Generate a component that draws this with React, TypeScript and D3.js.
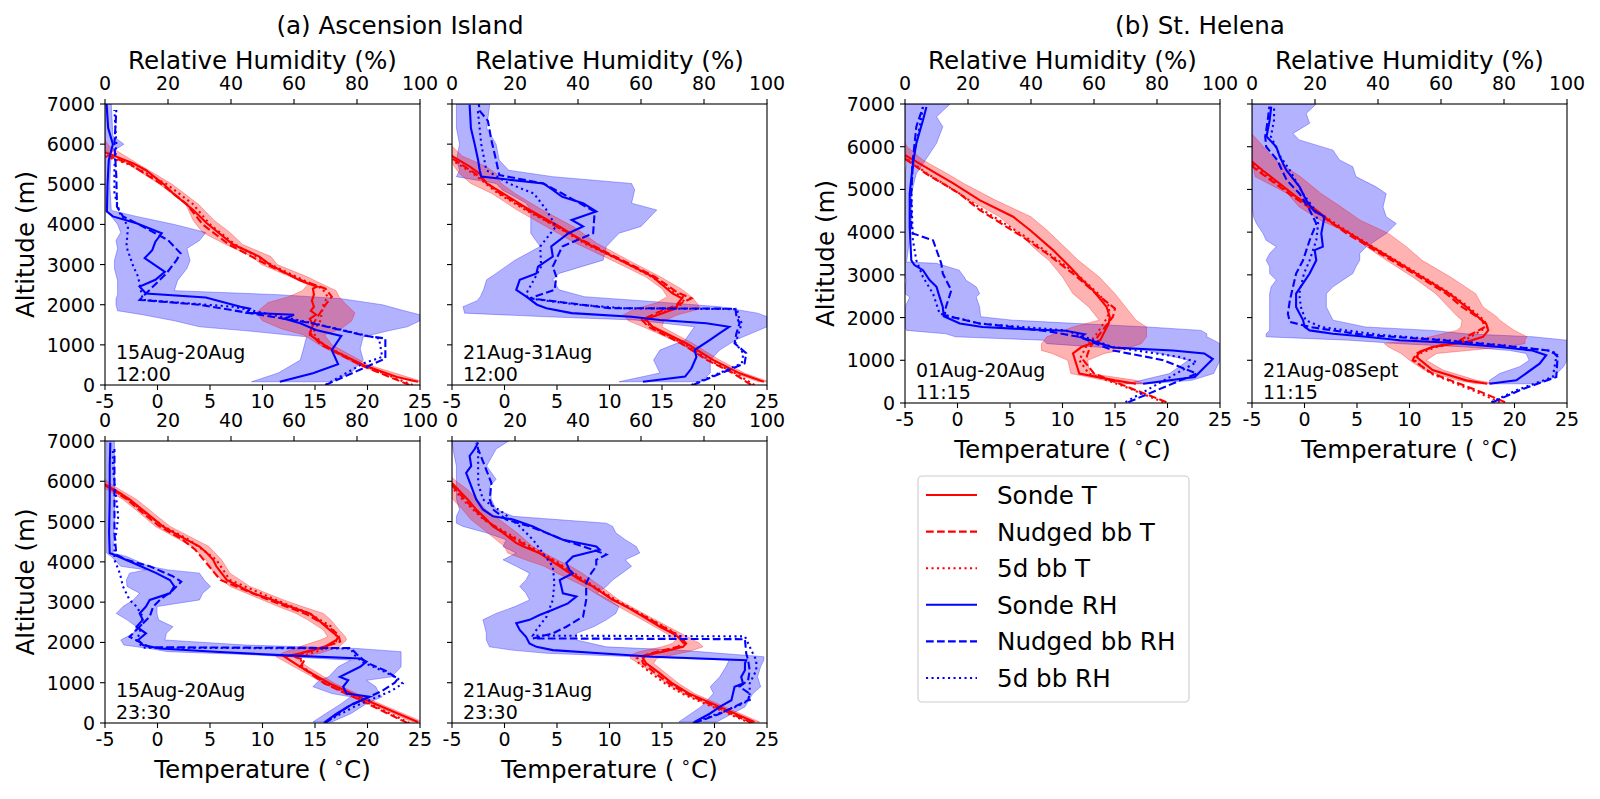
import * as d3 from "d3";

// [altitude (m), value]
type Pt = [number, number];
// [altitude (m), low, high]
type Band = [number, number, number];

const T_TICKS = [-5, 0, 5, 10, 15, 20, 25];
const RH_TICKS = [0, 20, 40, 60, 80, 100];
const ALT_TICKS = [0, 1000, 2000, 3000, 4000, 5000, 6000, 7000];

const TITLES = ["(a) Ascension Island", "(b) St. Helena"];
const LEGEND_LABELS = ["Sonde T", "Nudged bb T", "5d bb T", "Sonde RH", "Nudged bb RH", "5d bb RH"];

// ---- Ascension 15Aug-20Aug 12:00
const A1_SONDE_T: Pt[] = [[80,24.8],[200,22.8],[500,19.6],[870,16.7],[1000,15.9],[1250,14.5],[1350,14.6],[1500,14.8],[1650,14.5],[1750,15.1],[1850,14.6],[1950,14.9],[2100,14.7],[2250,14.9],[2400,14.8],[2450,15.2],[2600,13.6],[3000,10.7],[3200,9.7],[3500,7.2],[4030,4.7],[4360,3.4],[4770,1.5],[5000,0.6],[5350,-1.1],[5520,-2.3],[5800,-5]];
const A1_NUDGED_T: Pt[] = [[0,24.0],[500,19.3],[1000,15.6],[1300,14.5],[1600,15.0],[2000,16.0],[2200,16.6],[2400,16.0],[2600,13.8],[3000,10.4],[3500,6.8],[4000,4.3],[4500,2.8],[5000,0.4],[5500,-2.6],[5750,-5]];
const A1_FIVE_T: Pt[] = [[0,24.3],[500,19.5],[1000,15.8],[1300,14.8],[1600,15.5],[2000,15.8],[2200,16.2],[2400,15.7],[2600,14.0],[3000,10.8],[3500,7.4],[4000,5.0],[4500,3.4],[5000,0.9],[5500,-2.7],[5700,-5]];
const A1_BAND_T: Band[] = [[80,24.3,25.3],[500,19.1,20.1],[1000,15.4,16.6],[1250,13.9,15.9],[1400,11.8,17.5],[1600,10.0,18.5],[1800,9.4,18.8],[2050,10.5,17.8],[2200,12.5,17.3],[2350,13.8,17.0],[2500,14.3,15.8],[2700,12.6,14.2],[3000,9.9,11.4],[3200,9.0,10.8],[3500,6.5,8.1],[3800,4.3,6.9],[4100,3.4,5.4],[4500,2.7,3.9],[5000,0.2,1.4],[5500,-2.8,-1.8],[5950,-5.6,-4.6],[6100,-5.6,-5.0]];
const A1_SONDE_RH: Pt[] = [[80,55.5],[290,66],[520,74],[870,72],[1220,75],[1370,67],[1540,62],[1650,57],[1750,60],[1800,45],[1900,46],[1950,43],[2180,32],[2280,13],[2450,11],[2620,16],[2820,19],[3160,12.6],[3360,15],[3570,16],[3780,18],[4030,10],[4200,2.5],[4320,0.6],[5000,0.8],[5600,1.2],[6000,2.5],[6400,1],[7000,0.5]];
const A1_NUDGED_RH: Pt[] = [[0,70],[660,89],[1160,89],[1220,83],[1540,65.6],[1790,46],[2000,30],[2120,11],[2280,13],[2780,19.5],[3110,22.7],[3280,24],[3610,20],[3990,11],[4200,5.7],[4440,3.8],[5190,3.6],[6000,3],[6850,3.6]];
const A1_FIVE_RH: Pt[] = [[0,70],[540,82],[700,88],[1160,87],[1540,66],[1950,40.7],[2120,12],[2700,10.5],[2950,9],[3450,6.8],[3950,7.3],[4280,4.7],[4770,3],[5440,3],[6000,3.6],[6850,3]];
const A1_BAND_RH: Band[] = [[80,46.5,72],[300,55,78],[620,62,82],[900,63,81],[1200,64,82],[1350,45,90],[1450,30,96],[1600,22,100],[1750,12,100],[1850,4,95],[2000,3.5,88],[2150,3.5,75],[2250,4,55],[2350,4,22],[2600,4,23],[2900,3,26],[3100,3,27],[3400,4,26],[3600,3.5,30],[3800,5,32],[4000,4,22],[4200,2,10],[4350,0,2],[5000,0,1.5],[5800,0,2],[6000,0,6],[6200,0,2.5],[7000,0,2]];

// ---- Ascension 21Aug-31Aug 12:00
const A2_SONDE_T: Pt[] = [[80,24.7],[290,22.4],[620,19.9],[1040,17.3],[1450,14.1],[1620,13.5],[1700,14.1],[1910,16.4],[2030,16.5],[2160,16.9],[2280,16.0],[2700,14.1],[3110,11.0],[3530,7.8],[3940,5.3],[4360,2.4],[4770,-0.1],[5020,-1.7],[5270,-2.4],[5440,-3.3],[5690,-4.9],[5720,-5]];
const A2_NUDGED_T: Pt[] = [[0,23.5],[290,21.8],[620,19.3],[1040,16.8],[1450,13.7],[1620,13.1],[1800,14.5],[2000,16.5],[2160,17.8],[2300,16.5],[2700,14.3],[3110,11.2],[3530,8.0],[3940,5.0],[4360,2.2],[4770,-0.4],[5270,-2.8],[5650,-5]];
const A2_FIVE_T: Pt[] = [[0,23.8],[290,22.0],[620,19.5],[1040,17.0],[1450,13.9],[1620,13.4],[1800,15.0],[2000,16.8],[2160,17.2],[2300,16.2],[2700,14.0],[3110,11.0],[3530,7.6],[3940,5.0],[4360,2.0],[4770,-0.6],[5270,-3.0],[5600,-5]];
const A2_BAND_T: Band[] = [[80,24.2,25.2],[290,21.9,22.9],[620,19.3,20.5],[1040,16.7,17.9],[1450,13.2,15.0],[1600,11.8,15.2],[1750,11.3,16.5],[1900,12.5,18.7],[2050,14.5,18.3],[2200,15.5,17.8],[2400,15.0,16.8],[2700,13.4,14.8],[3110,10.2,11.8],[3530,6.8,8.8],[3940,4.0,6.6],[4360,1.2,3.6],[4770,-1.2,1.0],[5020,-3.2,-0.3],[5270,-4.3,-0.8],[5450,-4.8,-1.8],[5700,-5.5,-4.0],[5950,-5.5,-5.0]];
const A2_SONDE_RH: Pt[] = [[80,60.6],[210,74],[410,76],[700,77.6],[870,77],[1120,81.8],[1290,85],[1450,88],[1540,80.7],[1620,66],[1700,57],[1790,38],[1910,30],[2000,27],[2200,23.6],[2370,20.4],[2620,21.5],[2780,26.8],[2950,27.3],[3200,32],[3450,31.5],[3780,37],[3950,41.6],[4110,38],[4320,45.8],[4530,41.6],[4690,35],[4860,32],[5020,29],[5190,9.3],[5350,8.8],[5600,8.3],[6000,7.2],[6400,6],[6980,5.6]];
const A2_NUDGED_RH: Pt[] = [[0,76.5],[540,92.9],[790,93.4],[1040,89.7],[1290,90.3],[1540,91.3],[1700,90.3],[1900,90],[1915,50],[2160,24.7],[2370,32.6],[2700,33.1],[2950,32],[3450,35],[3780,44.8],[4320,45.3],[4530,40.5],[4770,35],[5020,29],[5230,15],[5600,14],[6100,12.5],[6580,11.4],[6830,8.8],[7000,8.5]];
const A2_FIVE_RH: Pt[] = [[0,76],[540,92],[790,92.5],[1040,90],[1290,91],[1540,92],[1700,91],[1890,90.5],[1910,55],[2000,40],[2160,24],[2280,23.6],[2950,28.3],[3450,28],[3950,33],[4360,30],[4770,26],[5020,18],[5350,10.9],[6000,9.3],[6830,8.2]];
const A2_BAND_RH: Band[] = [[80,53,79],[300,66,82],[620,64,82],[870,66,85],[1120,74,90],[1450,77,100],[1620,58,100],[1700,30,100],[1790,4,97],[1950,3.5,85],[2100,8,60],[2200,9,42],[2370,10,34],[2620,11,32],[2780,14,34],[3110,20,48],[3450,28,49],[3780,25,53],[3950,25,60],[4360,25,65],[4530,23.5,57],[4860,16,58],[5020,14,57],[5190,1.4,32],[5350,2.4,18],[5600,1.4,15],[6000,2.4,14],[6400,1.4,11],[7000,1.4,12]];

// ---- Ascension 15Aug-20Aug 23:30
const A3_SONDE_T: Pt[] = [[25,24.8],[565,19.9],[980,16.4],[1395,13.6],[1645,12.1],[1730,13.6],[1890,15.9],[2060,17.05],[2140,17.2],[2310,16.4],[2560,15.3],[2720,14.5],[2890,12.6],[3055,11],[3220,9.1],[3390,7.8],[3550,6.6],[3720,6.1],[3890,5.6],[4050,5.3],[4220,4.7],[4380,4.0],[4550,2.75],[4880,0.5],[5215,-1.06],[5550,-2.65],[5710,-3.6],[5920,-5]];
const A3_NUDGED_T: Pt[] = [[0,23.8],[565,19.3],[980,15.9],[1300,14.2],[1400,13.6],[1560,14.0],[1650,13.0],[1800,14.8],[2020,17.4],[2200,17.2],[2400,16.2],[2700,14.2],[3055,10.6],[3550,6.0],[4050,4.4],[4300,3.6],[4550,2.4],[4880,0.2],[5215,-1.4],[5550,-2.9],[5900,-5]];
const A3_FIVE_T: Pt[] = [[0,24.0],[565,19.5],[980,16.0],[1400,13.8],[1650,13.6],[1800,15.5],[2020,17.0],[2200,17.0],[2400,16.5],[2700,14.6],[3055,11.3],[3550,6.9],[4050,5.6],[4550,3.0],[4880,0.6],[5215,-1.2],[5550,-2.8],[5900,-5]];
const A3_BAND_T: Band[] = [[25,24.3,25.3],[565,19.4,20.4],[980,15.9,16.9],[1395,13.0,14.3],[1645,11.3,13.0],[1730,11.8,15.5],[1890,13.5,17.3],[2060,15.5,18.0],[2140,16.2,17.9],[2310,15.8,17.3],[2560,14.3,16.5],[2720,13.2,15.8],[2890,11.5,13.8],[3055,10.0,12.0],[3390,6.9,8.8],[3720,5.4,6.9],[4050,4.6,6.1],[4380,3.3,4.9],[4880,-0.2,1.2],[5215,-1.7,-0.4],[5550,-3.3,-2.0],[5920,-5.6,-4.4],[6050,-5.6,-5.0]];
const A3_SONDE_RH: Pt[] = [[25,69.8],[230,73.5],[480,78.8],[650,84],[730,76.7],[900,75.6],[1060,77.2],[1145,74.6],[1395,81],[1520,83],[1600,81],[1690,54],[1770,35],[1850,17.4],[1935,12],[2060,10.5],[2225,13],[2390,10],[2560,12],[2720,11],[2890,13],[3055,14.2],[3220,20.6],[3390,22],[3550,20.6],[3720,16.3],[3970,9],[4135,4.2],[4220,1.5],[4720,1.3],[5550,1.5],[6380,1.5],[6960,1.7]];
const A3_NUDGED_RH: Pt[] = [[0,70],[400,77],[800,88],[1000,92],[1100,93],[1300,89],[1500,83],[1700,80],[1860,78],[1880,14.2],[2140,7.8],[2390,11],[2640,14.2],[2890,15.3],[3055,17.4],[3300,21.6],[3510,24.2],[3640,21.6],[3890,14.2],[4050,6.8],[4180,3.6],[4720,3.0],[5550,3.0],[6380,3.0],[6800,3.0]];
const A3_FIVE_RH: Pt[] = [[0,69.5],[400,79],[800,91],[980,94.5],[1100,93],[1300,88],[1500,82],[1700,79],[1850,78],[1870,12],[2060,10],[2225,11],[2640,12],[2890,10],[3055,7.8],[3390,5.7],[3720,4.7],[4050,3.0],[4380,3.0],[5130,4.2],[5550,3.6],[5960,3.0],[6380,2.5],[6800,2.5]];
const A3_BAND_RH: Band[] = [[25,66,72],[230,70,78],[480,75,83],[650,78,88],[730,72,87],[900,66,86],[1060,68,83],[1145,71,91],[1395,74,94],[1560,78,94],[1700,45,94],[1770,20,94],[1850,14,80],[1935,6,45],[2060,5,19],[2225,9,19.5],[2390,10,21.6],[2560,7,17],[2720,3.6,16.5],[2890,5.7,16.5],[3055,9,30],[3220,11,31],[3390,7,33.5],[3550,6.8,31.5],[3720,7.8,30],[3800,13,20],[3890,5,14],[4135,2,6.8],[4220,0.5,2.5],[5000,0.5,3.0],[6000,0.5,3.0],[7000,0.5,3.0]];

// ---- Ascension 21Aug-31Aug 23:30
const A4_SONDE_T: Pt[] = [[25,23.8],[400,20.5],[730,17.6],[980,16.0],[1230,14.8],[1480,13.5],[1600,13.2],[1690,13.5],[1770,15.1],[1890,17.0],[1975,17.3],[2060,17.0],[2225,16.0],[2390,14.8],[2640,13.2],[2890,11.6],[3055,10.3],[3390,8.4],[3550,7.2],[3720,6.2],[3890,5.25],[4050,4.3],[4220,3.3],[4380,1.8],[4470,1.1],[4720,-0.14],[4880,-1.1],[5050,-1.7],[5300,-2.7],[5550,-3.5],[5790,-4.4],[5960,-5]];
const A4_NUDGED_T: Pt[] = [[0,23.6],[400,20.2],[730,17.3],[980,15.7],[1230,14.4],[1480,13.2],[1650,13.0],[1770,14.5],[1890,16.5],[2000,17.0],[2225,16.2],[2640,13.4],[3055,10.4],[3550,7.4],[4050,4.5],[4380,2.2],[4720,0.0],[5050,-1.9],[5550,-3.8],[5900,-5]];
const A4_FIVE_T: Pt[] = [[0,23.4],[400,19.8],[730,16.9],[980,15.3],[1230,14.0],[1480,12.8],[1600,12.6],[1770,14.8],[1890,16.8],[2000,17.3],[2225,16.3],[2640,13.5],[3055,10.6],[3550,7.6],[4050,4.7],[4380,2.5],[4720,0.2],[5050,-2.0],[5550,-4.0],[5850,-5]];
const A4_BAND_T: Band[] = [[25,23.2,24.3],[400,19.9,21.0],[730,17.0,18.1],[980,15.4,16.6],[1230,14.2,15.4],[1480,12.8,14.2],[1600,12.0,14.5],[1690,12.0,16.0],[1770,12.8,17.5],[1890,15.0,18.9],[1975,16.0,18.6],[2060,16.3,18.0],[2225,15.4,16.8],[2640,12.6,13.8],[3055,9.7,10.9],[3390,7.6,9.2],[3720,5.0,7.4],[3890,3.8,6.3],[4050,2.0,5.0],[4220,0.3,3.8],[4380,0.0,2.7],[4720,-1.6,1.2],[5050,-3.2,-0.5],[5300,-4.0,-1.8],[5550,-4.9,-2.6],[5790,-5.6,-3.5],[6000,-5.6,-4.6],[6100,-5.6,-5.0]];
const A4_SONDE_RH: Pt[] = [[25,77],[230,81.8],[400,85],[565,88.7],[730,89.2],[900,89.7],[980,92.4],[1145,91.8],[1310,93],[1480,93],[1560,93.4],[1645,63.8],[1730,46.9],[1810,32],[1890,26.8],[1975,24.6],[2140,23.5],[2310,21.5],[2475,20.4],[2560,24.6],[2680,27.8],[2810,32],[2970,36.8],[3140,39.5],[3220,35.2],[3390,34.7],[3550,34.2],[3720,38.4],[3800,37.3],[3970,36.3],[4135,38.4],[4300,46.9],[4380,45.8],[4550,35.2],[4720,30],[4880,25.7],[5050,19.4],[5130,13],[5300,9.8],[5550,7.7],[5880,6.1],[6210,4.5],[6380,6.1],[6630,5.6],[6800,7.2],[6960,8.3]];
const A4_NUDGED_RH: Pt[] = [[0,77],[230,85],[565,94],[730,94.5],[900,91.3],[1060,94],[1310,94.5],[1560,94],[1730,93.4],[2080,93],[2100,25.7],[2225,32],[2390,36.3],[2640,41.6],[3055,42.6],[3470,42.6],[3720,44.2],[3890,45.8],[4050,45.8],[4180,49],[4300,44.8],[4550,35.2],[4720,30],[4880,24.7],[5050,17.2],[5300,13],[5550,12],[5960,12.5],[6380,10.4],[6800,8.3],[6960,7.7]];
const A4_FIVE_RH: Pt[] = [[0,76.5],[400,90],[565,94.5],[980,94.5],[1310,96.6],[1560,96.6],[1730,95.5],[2150,93],[2170,25.7],[2310,26.8],[2640,30],[3055,32],[3470,32.5],[3890,32],[4220,28.8],[4550,25.7],[4880,21.5],[5220,16.2],[5550,9.8],[5960,8.3],[6380,8.3],[6800,8.3]];
const A4_BAND_RH: Band[] = [[25,72,84],[400,79,93],[730,83,95.5],[900,82,98],[1145,85,97],[1400,87,98],[1560,88,99],[1645,58,99],[1730,30,85],[1810,19,72],[1890,11.9,49],[2060,10.9,39.5],[2225,10.9,39.5],[2390,10.4,45],[2560,9.8,49],[2720,14,52],[2890,20,53],[3055,24.6,50],[3220,23.5,46],[3390,21.5,49],[3550,23.5,51],[3720,24.6,54],[3890,20.4,57],[4050,16.2,55],[4220,20.4,59.6],[4380,16.2,58.5],[4550,17.2,55],[4720,10.9,52],[4880,3.5,51],[4960,1.4,49],[5130,1.4,19.4],[5300,2.4,14],[5550,1.4,12.5],[5880,1.4,12],[6050,1.4,14],[6380,1.4,11],[6800,0.3,14],[7000,0,18]];

// ---- St. Helena 01Aug-20Aug 11:15
const B1_SONDE_T: Pt[] = [[450,17.0],[530,15.0],[690,11.6],[1000,11.2],[1160,11.0],[1310,11.8],[1470,13.6],[1620,13.9],[1860,14.4],[2020,14.5],[2250,14.2],[2640,12.9],[2950,11.6],[3190,10.7],[3580,9.1],[4050,6.9],[4360,5.3],[4750,2.1],[5140,-0.4],[5370,-2.0],[5690,-4.2],[5800,-5]];
const B1_NUDGED_T: Pt[] = [[20,19.9],[375,16.2],[690,13.0],[1000,12.0],[1080,12.3],[1300,12.6],[1600,13.5],[2020,14.8],[2210,15.0],[2560,13.2],[3030,11.0],[3500,8.5],[3890,6.2],[4520,2.1],[4900,0.2],[5370,-3.0],[5720,-5]];
const B1_FIVE_T: Pt[] = [[20,19.6],[375,16.0],[690,12.5],[1000,11.6],[1300,12.2],[1600,13.2],[1860,13.9],[2020,14.3],[2250,14.5],[2560,13.4],[3030,11.3],[3500,8.7],[3890,6.5],[4520,2.4],[4900,0.2],[5370,-2.9],[5750,-5]];
const B1_BAND_T: Band[] = [[450,15.5,17.8],[530,14.0,17.0],[690,10.8,12.6],[1000,10.5,12.4],[1160,9.0,14.0],[1230,8.0,15.5],[1390,8.0,17.5],[1550,8.5,18.0],[1780,11.0,18.0],[1940,13.5,17.0],[2250,12.5,16.0],[2560,11.0,15.0],[2950,10.0,13.5],[3340,8.7,11.5],[3580,7.5,10.5],[4050,5.5,8.5],[4360,4.0,7.0],[4750,1.2,3.6],[5140,-1.3,0.6],[5370,-2.8,-1.0],[5690,-5.0,-3.3],[6000,-5.5,-4.8],[6100,-5.5,-5.0]];
const B1_SONDE_RH: Pt[] = [[450,75.6],[610,92],[1030,97.7],[1160,95],[1230,85],[1300,66],[1420,60.8],[1540,55.7],[1610,57],[1690,51],[1720,40],[1780,24.6],[1860,17.4],[2030,12.3],[2250,12],[2480,11],[2720,10],[2880,7.8],[3110,5.7],[3230,3],[3340,2],[4120,1.5],[4900,1.5],[5600,2.5],[6080,3.6],[6620,5.7],[6930,6.8]];
const B1_NUDGED_RH: Pt[] = [[20,70.9],[690,92.6],[1000,82],[1080,76.7],[1230,66],[1545,55.5],[1660,47],[1780,34.3],[1860,23.7],[2050,12.6],[2250,13],[2640,14.7],[3030,12],[3270,11.5],[3810,8.9],[3970,2.5],[4120,2],[4900,2],[5690,2.5],[6470,3.6],[6930,5.7]];
const B1_FIVE_RH: Pt[] = [[20,70],[960,92.6],[1080,87],[1310,66],[1700,51],[1860,23.7],[2090,11],[2560,8.9],[2950,5.7],[3340,3.6],[3810,2.5],[4900,2],[5690,2.5],[6470,4.7],[6930,5.7]];
const B1_BAND_RH: Band[] = [[450,70,77],[530,75,91],[690,84,98],[1000,90,100],[1230,77,100],[1390,45,100],[1470,44,98],[1550,16,95.8],[1620,13,95.8],[1700,0.5,94],[1780,0,77],[1860,0,55],[1940,0,34],[2020,0,24],[2250,0,23.7],[2480,1.5,22.6],[2560,0,23.7],[2720,0,22.6],[2880,0.5,19.3],[2950,0,18.8],[3110,0,17.2],[3270,0,10],[3300,0,0.5],[4120,0,2],[4900,0,2],[5370,0,3.6],[5600,0.5,5.7],[6080,0,10],[6470,0,12],[6700,0,10],[7000,0,14.3]];

// ---- St. Helena 21Aug-08Sept 11:15
const B2_SONDE_T: Pt[] = [[450,17.4],[530,15.4],[770,12.2],[1080,10.65],[1200,11.0],[1310,12.2],[1430,15.4],[1550,17.0],[1700,17.5],[1860,17.3],[2020,16.5],[2250,15.4],[2560,13.8],[2800,12.2],[3030,10.65],[3270,9.06],[3500,7.5],[3730,5.9],[3970,4.3],[4200,2.7],[4520,1.1],[4830,-0.8],[5140,-2.4],[5450,-4.0],[5650,-5]];
const B2_NUDGED_T: Pt[] = [[20,19.1],[300,16.4],[690,12.2],[1000,10.3],[1160,10.65],[1310,12.2],[1430,14.5],[1780,17.2],[1940,16.9],[2250,15.0],[2560,13.5],[3030,10.4],[3500,7.2],[3970,4.0],[4520,0.8],[4830,-1.1],[5140,-2.8],[5450,-4.5],[5550,-5]];
const B2_FIVE_T: Pt[] = [[20,18.6],[300,16.0],[690,12.0],[1000,10.5],[1160,11.0],[1310,12.5],[1430,15.0],[1780,17.4],[1940,17.1],[2250,15.6],[2560,13.9],[3030,10.8],[3500,7.6],[3970,4.4],[4520,1.0],[4830,-0.9],[5140,-2.6],[5450,-4.2],[5600,-5]];
const B2_BAND_T: Band[] = [[450,16.3,18.4],[530,14.6,16.4],[770,11.4,13.2],[1000,10.0,11.6],[1160,9.2,12.6],[1310,8.0,19.0],[1390,7.6,21.0],[1470,10.0,21.0],[1550,12.0,21.2],[1700,14.5,20.0],[1780,14.9,19.5],[1940,15.0,18.6],[2020,14.6,18.3],[2250,13.7,17.0],[2560,12.5,16.3],[2950,10.3,13.9],[3340,7.8,11.2],[3660,5.9,9.7],[3970,4.3,8.0],[4280,1.5,5.3],[4590,-0.5,3.5],[4900,-1.6,1.6],[5300,-4.7,-0.4],[5690,-5.0,-2.8],[6080,-5.0,-4.2],[6300,-5.5,-5.0]];
const B2_SONDE_RH: Pt[] = [[450,75.4],[530,83.9],[920,91.3],[1120,93.4],[1230,89],[1310,78.6],[1410,62.8],[1470,46.9],[1550,36.3],[1620,25.7],[1700,18.3],[1780,16.7],[1940,16.2],[2250,14],[2560,14],[2800,16.2],[3030,18.3],[3340,20.4],[3580,19.9],[3660,22.5],[3970,22],[4360,23],[4520,19.4],[4750,17.2],[5060,15.1],[5450,10.9],[5770,8.8],[6000,7.7],[6240,4.6],[6620,5.6],[6940,6.1]];
const B2_NUDGED_RH: Pt[] = [[20,76.5],[300,85],[610,96.6],[1080,97],[1160,96],[1230,94],[1350,78.6],[1470,60],[1600,35],[1780,18.3],[1900,12],[2090,11.4],[2400,12],[3030,14],[3340,16.2],[3810,18.3],[4200,20.4],[4520,18.3],[4900,15.1],[5220,11],[5690,8],[6000,4.5],[6240,4.2],[6620,5],[6940,5.5]];
const B2_FIVE_RH: Pt[] = [[20,76],[300,84],[610,95.5],[1080,96.6],[1160,97],[1230,94],[1350,80],[1470,62],[1600,40],[1780,22],[1940,17],[2250,15.5],[2560,15],[3030,16.5],[3340,18.3],[3810,20.4],[4200,21],[4520,20],[4900,16.2],[5450,12],[5770,9],[6240,6],[6620,7],[6940,7]];
const B2_BAND_RH: Band[] = [[450,75.4,89.9],[530,75.4,94.7],[690,78.6,96.8],[850,84.9,98.9],[1000,88,100],[1160,87,100],[1230,81.8,100],[1310,68,100],[1390,46.9,100],[1470,30.7,100],[1550,4.5,89.3],[1620,4.5,68],[1700,5.6,57],[1780,5.6,36],[1940,5.6,25.7],[2250,5.6,23.6],[2560,5.6,23.6],[2720,6.1,25.7],[2880,7.7,28.9],[3030,5.6,32],[3190,5.6,33],[3340,4.5,34.2],[3500,5.6,34.2],[3660,7.7,36.3],[3810,4.5,39.4],[3970,3.5,42.6],[4200,1.4,45.8],[4360,0.5,42.6],[4590,0,41.6],[4900,0,42.6],[5060,0,39.4],[5300,0,33],[5530,0,32],[5690,0,27.8],[5920,0,25.7],[6160,0,15],[6310,0,13],[6550,0,18.3],[6780,0,17.2],[7000,0,20.4]];

const RED = "#ff0000";
const BLUE = "#0000ff";
const DASHED = "7.7,3.3";
const DOTTED = "2.1,3.4";
const FONT = "DejaVu Sans, Liberation Sans, sans-serif";
const TICK_FS = 19;
const LABEL_FS = 24.6;

interface PanelSpec {
  key: string;
  x: number;
  y: number;
  w: number;
  h: number;
  period: string;
  time: string;
  yLabels: boolean;
  rhTitle: boolean;
  tTitle: boolean;
  sondeT: Pt[];
  nudgedT: Pt[];
  fiveT: Pt[];
  bandT: Band[];
  sondeRH: Pt[];
  nudgedRH: Pt[];
  fiveRH: Pt[];
  bandRH: Band[];
}

const PANELS: PanelSpec[] = [
  { key: "a1", x: 105, y: 104, w: 315, h: 281, period: "15Aug-20Aug", time: "12:00", yLabels: true, rhTitle: true, tTitle: false,
    sondeT: A1_SONDE_T, nudgedT: A1_NUDGED_T, fiveT: A1_FIVE_T, bandT: A1_BAND_T, sondeRH: A1_SONDE_RH, nudgedRH: A1_NUDGED_RH, fiveRH: A1_FIVE_RH, bandRH: A1_BAND_RH },
  { key: "a2", x: 452, y: 104, w: 315, h: 281, period: "21Aug-31Aug", time: "12:00", yLabels: false, rhTitle: true, tTitle: false,
    sondeT: A2_SONDE_T, nudgedT: A2_NUDGED_T, fiveT: A2_FIVE_T, bandT: A2_BAND_T, sondeRH: A2_SONDE_RH, nudgedRH: A2_NUDGED_RH, fiveRH: A2_FIVE_RH, bandRH: A2_BAND_RH },
  { key: "a3", x: 105, y: 441, w: 315, h: 282, period: "15Aug-20Aug", time: "23:30", yLabels: true, rhTitle: false, tTitle: true,
    sondeT: A3_SONDE_T, nudgedT: A3_NUDGED_T, fiveT: A3_FIVE_T, bandT: A3_BAND_T, sondeRH: A3_SONDE_RH, nudgedRH: A3_NUDGED_RH, fiveRH: A3_FIVE_RH, bandRH: A3_BAND_RH },
  { key: "a4", x: 452, y: 441, w: 315, h: 282, period: "21Aug-31Aug", time: "23:30", yLabels: false, rhTitle: false, tTitle: true,
    sondeT: A4_SONDE_T, nudgedT: A4_NUDGED_T, fiveT: A4_FIVE_T, bandT: A4_BAND_T, sondeRH: A4_SONDE_RH, nudgedRH: A4_NUDGED_RH, fiveRH: A4_FIVE_RH, bandRH: A4_BAND_RH },
  { key: "b1", x: 905, y: 104, w: 315, h: 299, period: "01Aug-20Aug", time: "11:15", yLabels: true, rhTitle: true, tTitle: true,
    sondeT: B1_SONDE_T, nudgedT: B1_NUDGED_T, fiveT: B1_FIVE_T, bandT: B1_BAND_T, sondeRH: B1_SONDE_RH, nudgedRH: B1_NUDGED_RH, fiveRH: B1_FIVE_RH, bandRH: B1_BAND_RH },
  { key: "b2", x: 1252, y: 104, w: 315, h: 299, period: "21Aug-08Sept", time: "11:15", yLabels: false, rhTitle: true, tTitle: true,
    sondeT: B2_SONDE_T, nudgedT: B2_NUDGED_T, fiveT: B2_FIVE_T, bandT: B2_BAND_T, sondeRH: B2_SONDE_RH, nudgedRH: B2_NUDGED_RH, fiveRH: B2_FIVE_RH, bandRH: B2_BAND_RH },
];

function TempLabel({ x, y }: { x: number; y: number }) {
  return (
    <text x={x} y={y} textAnchor="middle" fontSize={LABEL_FS}>
      Temperature (<tspan dx={6} dy={-10} fontSize={17}>∘</tspan>
      <tspan dy={10}>C)</tspan>
    </text>
  );
}

function Panel({ p }: { p: PanelSpec }) {
  const xT = d3.scaleLinear().domain([-5, 25]).range([0, p.w]);
  const xRH = d3.scaleLinear().domain([0, 100]).range([0, p.w]);
  const y = d3.scaleLinear().domain([0, 7000]).range([p.h, 0]);

  const lineT = d3.line<Pt>().x((d) => xT(d[1])).y((d) => y(d[0]));
  const lineRH = d3.line<Pt>().x((d) => xRH(d[1])).y((d) => y(d[0]));
  const areaT = d3.area<Band>().y((d) => y(d[0])).x0((d) => xT(d[1])).x1((d) => xT(d[2]));
  const areaRH = d3.area<Band>().y((d) => y(d[0])).x0((d) => xRH(d[1])).x1((d) => xRH(d[2]));

  const clip = `clip-${p.key}`;
  const lw = 2.1;

  return (
    <g transform={`translate(${p.x},${p.y})`}>
      <defs>
        <clipPath id={clip}>
          <rect x={0} y={0} width={p.w} height={p.h} />
        </clipPath>
      </defs>
      <g clipPath={`url(#${clip})`}>
        <path d={areaRH(p.bandRH) ?? ""} fill={BLUE} fillOpacity={0.3} stroke={BLUE} strokeOpacity={0.3} strokeWidth={1} />
        <path d={areaT(p.bandT) ?? ""} fill={RED} fillOpacity={0.3} stroke={RED} strokeOpacity={0.3} strokeWidth={1} />
        <path d={lineT(p.sondeT) ?? ""} fill="none" stroke={RED} strokeWidth={lw} />
        <path d={lineT(p.nudgedT) ?? ""} fill="none" stroke={RED} strokeWidth={lw} strokeDasharray={DASHED} />
        <path d={lineT(p.fiveT) ?? ""} fill="none" stroke={RED} strokeWidth={lw} strokeDasharray={DOTTED} />
        <path d={lineRH(p.sondeRH) ?? ""} fill="none" stroke={BLUE} strokeWidth={lw} />
        <path d={lineRH(p.nudgedRH) ?? ""} fill="none" stroke={BLUE} strokeWidth={lw} strokeDasharray={DASHED} />
        <path d={lineRH(p.fiveRH) ?? ""} fill="none" stroke={BLUE} strokeWidth={lw} strokeDasharray={DOTTED} />
      </g>
      <rect x={0} y={0} width={p.w} height={p.h} fill="none" stroke="#000" strokeWidth={1.1} />

      {/* bottom: temperature */}
      {T_TICKS.map((t) => (
        <g key={`t${t}`} transform={`translate(${xT(t)},${p.h})`}>
          <line y2={5} stroke="#000" strokeWidth={1.1} />
          <text y={23} textAnchor="middle" fontSize={TICK_FS}>{t}</text>
        </g>
      ))}
      {/* top: relative humidity */}
      {RH_TICKS.map((r) => (
        <g key={`r${r}`} transform={`translate(${xRH(r)},0)`}>
          <line y2={-5} stroke="#000" strokeWidth={1.1} />
          <text y={-14} textAnchor="middle" fontSize={TICK_FS}>{r}</text>
        </g>
      ))}
      {/* left: altitude */}
      {ALT_TICKS.map((a) => (
        <g key={`a${a}`} transform={`translate(0,${y(a)})`}>
          <line x2={-5} stroke="#000" strokeWidth={1.1} />
          {p.yLabels && (
            <text x={-10} y={7} textAnchor="end" fontSize={TICK_FS}>{a}</text>
          )}
        </g>
      ))}

      <text x={11} y={p.h - 26} fontSize={TICK_FS}>{p.period}</text>
      <text x={11} y={p.h - 4.5} fontSize={TICK_FS}>{p.time}</text>

      {p.rhTitle && (
        <text x={p.w / 2} y={-35} textAnchor="middle" fontSize={LABEL_FS}>Relative Humidity (%)</text>
      )}
      {p.tTitle && <TempLabel x={p.w / 2} y={p.h + 55} />}
      {p.yLabels && (
        <text transform={`translate(-71,${p.h / 2}) rotate(-90)`} textAnchor="middle" fontSize={LABEL_FS}>
          Altitude (m)
        </text>
      )}
    </g>
  );
}

function Legend() {
  const styles: Array<[string, string | undefined]> = [
    [RED, undefined], [RED, DASHED], [RED, DOTTED],
    [BLUE, undefined], [BLUE, DASHED], [BLUE, DOTTED],
  ];
  const row = d3.scaleLinear().domain([0, 5]).range([495, 678]);
  return (
    <g>
      <rect x={918} y={476} width={271} height={226} rx={4} fill="#fff" stroke="#cccccc" strokeWidth={1.1} />
      {LEGEND_LABELS.map((lab, i) => (
        <g key={lab} transform={`translate(0,${row(i)})`}>
          <line x1={926} x2={977} stroke={styles[i][0]} strokeWidth={2.1} strokeDasharray={styles[i][1]} />
          <text x={997} y={9} fontSize={LABEL_FS}>{lab}</text>
        </g>
      ))}
    </g>
  );
}

export default function App() {
  return (
    <svg
      width={1600}
      height={799}
      viewBox="0 0 1600 799"
      style={{ position: "absolute", left: 0, top: 0, background: "#fff" }}
      fontFamily={FONT}
    >
      <rect width={1600} height={799} fill="#fff" />
      <text x={400} y={34} textAnchor="middle" fontSize={LABEL_FS}>{TITLES[0]}</text>
      <text x={1200} y={34} textAnchor="middle" fontSize={LABEL_FS}>{TITLES[1]}</text>
      {PANELS.map((p) => (
        <Panel key={p.key} p={p} />
      ))}
      <Legend />
    </svg>
  );
}
